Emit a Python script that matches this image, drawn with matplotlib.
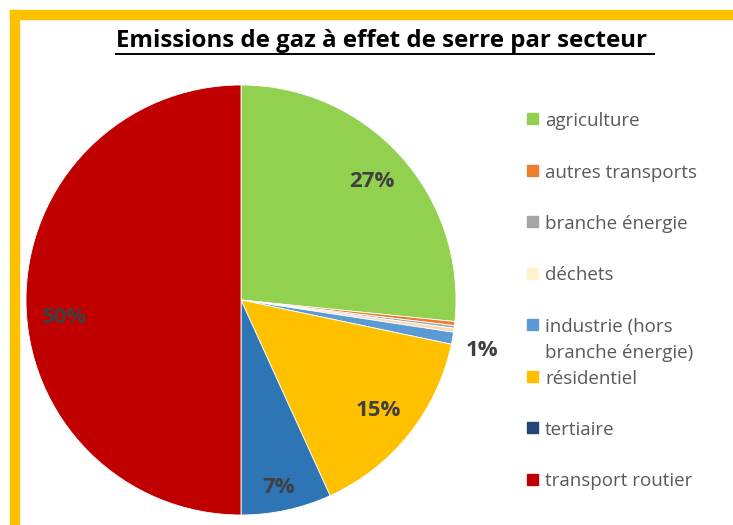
import numpy as np
import matplotlib.pyplot as plt
from matplotlib.patches import Rectangle

# data
secteurs = ['agriculture', 'autres transports', 'branche énergie', 'déchets',
            'industrie (hors\nbranche énergie)', 'résidentiel', 'tertiaire',
            'transport routier']
parts = [26.6, 0.3, 0.2, 0.3, 0.9, 14.9, 6.8, 50.0]
etiquettes = ['27%', '', '', '', '1%', '15%', '7%', '50%']
couleurs = ['#92D050', '#ED7D31', '#A5A5A5', '#F8D9B8', '#5B9BD5', '#FFC000',
            '#2E75B6', '#C00000']
couleurs_legende = ['#92D050', '#ED7D31', '#A5A5A5', '#FFF2CC', '#5B9BD5',
                    '#FFC000', '#264478', '#C00000']

W, H = 733, 525
fig = plt.figure(figsize=(W / 100, H / 100), dpi=100)

# cadre jaune (haut et gauche)
fig.patches.append(Rectangle((10 / W, 0), 9 / W, (H - 10) / H, transform=fig.transFigure,
                             color='#FFC000', zorder=0))
fig.patches.append(Rectangle((10 / W, (H - 19) / H), (W - 10) / W, 9 / H,
                             transform=fig.transFigure, color='#FFC000', zorder=0))

ax = fig.add_axes([26 / W, 10 / H, 430 / W, 430 / H])
wedges, _ = ax.pie(parts, colors=couleurs, startangle=90, counterclock=False,
                   radius=1, wedgeprops=dict(edgecolor='white', linewidth=0.6))
ax.set_xlim(-1, 1)
ax.set_ylim(-1, 1)
ax.set_aspect('equal')
ax.axis('off')

for w, lab in zip(wedges, etiquettes):
    if not lab:
        continue
    ang = np.deg2rad((w.theta1 + w.theta2) / 2)
    d = 0.82
    if lab == '1%':
        d = 1.14
    x, y = d * np.cos(ang), d * np.sin(ang)
    if lab == '50%':
        y -= 0.08
    if lab == '7%':
        y -= 0.07
    if lab == '1%':
        y -= 0.03
    ax.text(x, y, lab, ha='center', va='center', fontsize=16, fontweight='bold',
            color='#404040', family='Open Sans')

# titre souligné
t = fig.text(385 / W, (H - 41) / H, 'Emissions de gaz à effet de serre par secteur ',
             ha='center', va='center', fontsize=17.3, fontweight='bold',
             family='Open Sans', color='black')
fig.canvas.draw()
bb = t.get_window_extent()
yl = (H - 54) / H
fig.add_artist(plt.Line2D([bb.x0 / W, bb.x1 / W], [yl, yl], color='black',
                          linewidth=1.4, transform=fig.transFigure))

# légende
y0 = 119
pas = 51.5
for i, (s, c) in enumerate(zip(secteurs, couleurs_legende)):
    y = y0 + i * pas
    fig.patches.append(Rectangle((527 / W, (H - y - 5) / H), 11 / W, 11 / H,
                                 transform=fig.transFigure, color=c))
    fig.text(545 / W, (H - y + 7) / H, s, ha='left', va='top', fontsize=13.5,
             color='#595959', family='Open Sans', linespacing=1.55)

fig.savefig('out.png', dpi=100)
